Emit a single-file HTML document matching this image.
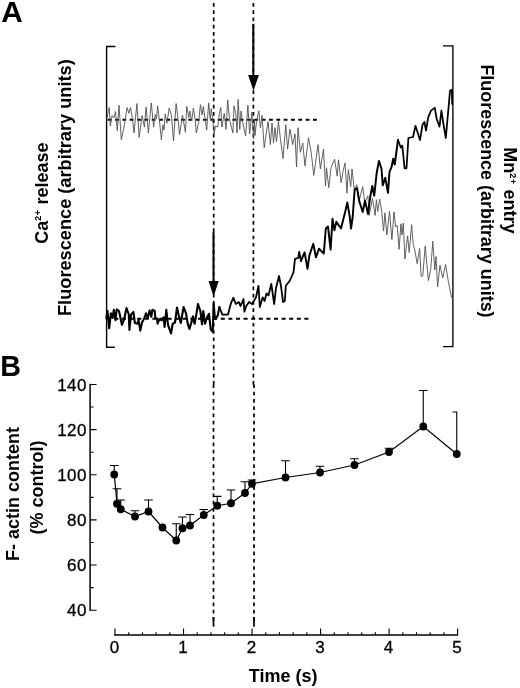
<!DOCTYPE html>
<html><head><meta charset="utf-8"><title>Figure</title>
<style>
html,body{margin:0;padding:0;background:#fff;}
body{width:520px;height:688px;overflow:hidden;}
svg{display:block;}
text{font-family:"Liberation Sans",Arial,Helvetica,sans-serif;fill:#000;}
.b{font-weight:bold;}
</style></head><body>
<svg width="520" height="688" viewBox="0 0 520 688">
<rect width="520" height="688" fill="#fff"/>
<!-- panel letters -->
<text class="b" x="1.2" y="21.8" font-size="29.8">A</text>
<text class="b" x="0.2" y="375.7" font-size="28.7">B</text>

<!-- panel A brackets -->
<path d="M115.4 46.5H106.6V347.3H114.8" fill="none" stroke="#000" stroke-width="1.4"/>
<path d="M443 45.9H452.9V346.6H443" fill="none" stroke="#000" stroke-width="1.35"/>

<!-- dashed guide lines -->
<path d="M316.8 119.7H107.3" fill="none" stroke="#000" stroke-width="2" stroke-dasharray="3.8 3.53"/>
<path d="M308.4 318.8H107.3" fill="none" stroke="#000" stroke-width="2" stroke-dasharray="4 3.6"/>
<path d="M213.7 3V384.7M253.4 3V384.7M213.5 384.4V620.7M254 384.4V620.7" fill="none" stroke="#000" stroke-width="1.7" stroke-dasharray="3.7 3.57"/>
<path d="M213.5 617V626.7M254 617V626.7" fill="none" stroke="#000" stroke-width="1.7"/>

<!-- gray trace -->
<polyline points="106.9,117.9 109.2,107.5 110.3,126.0 112.1,115.6 113.8,117.9 115.5,111.6 117.3,130.6 119.0,105.2 121.3,139.8 124.2,126.0 127.1,107.5 128.8,113.3 130.5,107.5 132.3,117.9 134.0,132.9 136.9,103.5 139.2,137.5 142.1,115.6 144.4,127.1 146.1,107.0 148.4,132.9 151.3,102.9 153.6,127.1 155.3,114.5 156.5,119.0 157.6,105.8 159.9,124.8 161.4,139.8 162.9,124.8 164.0,130.0 165.2,113.9 166.9,123.1 169.2,108.1 171.5,115.6 173.5,141.0 176.1,103.5 177.9,117.9 179.6,134.6 182.5,115.0 185.4,132.3 186.8,106.4 188.8,117.9 189.8,111.0 191.7,120.8 193.4,108.1 195.2,119.0 196.3,132.9 198.6,122.5 200.4,104.7 202.1,115.0 203.3,106.4 205.0,117.9 206.7,130.0 208.7,102.9 210.2,119.0 211.3,108.7 212.5,117.9 214.2,134.0 215.4,126.0 217.7,127.1 219.4,113.3 220.8,107.5 221.9,127.1 224.2,113.3 226.0,129.4 227.7,100.0 229.4,117.9 231.1,126.0 232.9,132.9 234.0,105.8 235.8,113.3 237.1,132.9 238.1,99.5 239.8,129.4 241.0,111.0 242.7,122.5 245.6,135.8 247.9,105.2 249.6,134.0 251.9,112.1 253.6,138.7 254.3,120.0 255.0,135.4 256.5,121.5 258.8,110.8 260.4,127.7 262.0,115.4 264.2,147.7 268.0,121.5 270.4,144.6 272.0,123.0 273.5,143.0 275.0,127.7 276.5,141.5 278.4,121.5 280.4,138.5 283.0,158.5 285.8,124.6 287.6,149.2 290.0,129.2 292.7,144.6 295.0,133.8 296.5,167.0 298.0,127.7 300.4,152.3 302.7,143.0 305.0,166.0 308.5,137.7 311.2,152.3 313.8,175.4 318.0,144.6 320.4,169.0 323.5,149.0 325.5,186.0 326.5,167.7 328.8,187.7 331.0,167.7 332.5,164.0 334.6,159.2 337.2,176.2 338.5,159.8 341.1,182.7 343.1,171.0 345.0,163.0 347.0,193.2 348.3,169.6 350.7,186.6 352.0,169.0 354.2,189.2 356.8,184.7 358.8,202.3 362.7,186.6 364.7,202.3 367.9,195.8 369.2,215.4 372.5,198.4 375.1,215.4 376.4,199.7 377.7,211.5 379.7,199.0 381.7,211.5 383.6,231.1 384.9,212.8 386.9,235.0 389.5,211.5 391.9,239.7 394.0,211.8 395.6,227.0 397.2,225.4 399.1,249.3 400.9,223.8 402.0,235.0 403.3,223.0 404.9,259.0 407.6,235.8 409.2,252.5 411.6,224.6 413.2,244.5 414.8,250.0 417.2,263.7 419.6,248.5 421.2,276.5 422.8,275.7 425.2,246.0 428.4,280.5 430.8,268.5 432.8,241.3 434.8,270.0 436.0,256.5 437.6,287.0 440.0,265.3 442.7,278.0 445.6,264.5 448.3,281.3 451.5,297.3 452.6,298.0" fill="none" stroke="#505050" stroke-width="0.9" stroke-linejoin="round"/>
<!-- black trace -->
<g fill="none" stroke="#000" stroke-linejoin="round" stroke-linecap="round">
<polyline points="106.3,318.0 107.5,311.0 109.2,328.3 110.9,313.3 112.6,318.0 113.8,309.8 115.5,320.2 116.7,309.3 119.0,311.0 121.9,324.8 124.2,319.0 126.5,308.0 128.8,314.5 129.4,330.0 131.1,314.5 133.4,312.0 134.9,323.0 137.4,323.7 138.6,320.2 140.3,330.6 142.0,322.5 144.4,318.0 146.0,313.3 147.8,318.0 149.6,310.4 151.3,316.8 152.4,309.8 154.7,311.0 155.3,318.0 157.0,318.5 157.6,323.7 159.4,319.0 161.7,320.2 163.5,317.3 164.6,327.0 166.3,309.8 168.0,324.8 171.0,333.5 172.7,323.7 175.0,322.5 177.0,307.5 178.5,314.5 180.8,323.0 183.6,307.0 186.0,313.3 187.7,323.7 189.4,328.9 191.7,321.4 192.9,316.2 194.6,323.7 196.3,314.5 198.0,304.0 200.4,311.0 202.0,324.3 203.3,311.0 205.0,323.7 207.3,316.8 209.0,313.9 210.7,329.4 212.8,331.8 213.6,303.0 215.0,319.0 217.7,315.6 219.4,307.0" stroke-width="2.1"/>
<polyline points="219.4,307.0 222.3,314.6 228.0,314.6 231.0,303.0 233.5,297.7 235.8,304.0 238.7,302.0 240.6,306.0 243.5,299.0 244.4,311.7 246.3,306.0 249.0,302.0 252.0,304.0 256.0,297.3 258.5,285.8 259.8,307.0 262.7,297.3 264.6,301.0 266.5,293.5 268.5,295.4 271.3,283.8 274.2,304.0 276.0,288.0 279.0,276.0 281.0,286.0 283.0,302.0 284.8,301.0 285.8,285.8 289.6,281.0 293.5,272.3 295.0,258.8 298.3,257.9 299.2,252.0 301.0,260.8" stroke-width="1.8"/>
<polyline points="301.0,260.8 303.0,256.0 304.6,252.5 307.5,268.8 309.4,255.4 313.3,243.8 316.0,257.3 319.0,248.7 323.8,253.5 325.8,228.5 328.0,226.5 330.6,249.6 332.5,218.8 334.4,230.4 336.3,221.7 341.0,228.5 345.4,211.0 347.3,202.5 349.8,217.0 351.0,228.5 352.7,217.0 354.6,190.0 357.0,188.0 359.4,201.5 362.7,212.0 365.0,200.6 368.0,214.0 370.4,195.8 372.3,186.0 374.2,195.8 376.7,172.7 379.0,161.0 381.5,168.8 382.8,185.3 385.3,177.8 388.0,192.9 389.5,172.0 391.7,166.4 393.2,158.8 394.7,164.5 398.0,140.0" stroke-width="1.95"/>
<polyline points="398.0,140.0 400.8,147.5 402.3,145.6 404.6,168.3 406.5,168.3 408.4,138.0 413.0,137.0 415.5,125.8 420.0,140.0 422.5,124.8 424.4,122.0 426.0,130.5 428.2,117.3 431.0,110.6 434.8,107.8 436.7,119.0 439.5,126.7 441.4,110.6 443.3,123.0 445.8,138.0 448.0,113.5 450.0,90.8 451.8,89.8 452.2,104.0" stroke-width="1.75"/>
</g>

<!-- arrows -->
<path d="M253.3 23.8V77" stroke="#000" stroke-width="2" fill="none"/>
<path d="M248.1 75.1H258.9L253.5 90.8Z" fill="#000"/>
<path d="M213.5 232V283" stroke="#000" stroke-width="2" fill="none"/>
<path d="M208.5 281H218.7L213.6 296.4Z" fill="#000"/>

<!-- axis labels panel A -->
<g class="b" font-size="18">
<text transform="translate(48.2 243.8) rotate(-90)">Ca<tspan font-size="9" letter-spacing="0.5" dy="-7.2">2+</tspan><tspan dy="7.2"> release</tspan></text>
<text transform="translate(70.6 316) rotate(-90)" font-size="18.2">Fluorescence (arbitrary units)</text>
<text transform="translate(504.2 147.3) rotate(90)">Mn<tspan font-size="9" letter-spacing="0.5" dy="-6.1">2+</tspan><tspan dy="6.1"> entry</tspan></text>
<text transform="translate(480.6 64.4) rotate(90)" font-size="17.95">Fluorescence (arbitrary units)</text>
</g>

<!-- panel B axes -->
<path d="M90.1 383.8V610.8" stroke="#000" stroke-width="1.5" fill="none"/>
<path d="M90.1 384.50H96.6M90.1 407.07H93.6M90.1 429.64H96.6M90.1 452.21H93.6M90.1 474.78H96.6M90.1 497.35H93.6M90.1 519.92H96.6M90.1 542.49H93.6M90.1 565.06H96.6M90.1 587.63H93.6M90.1 610.20H96.6" stroke="#000" stroke-width="1.1" fill="none"/>
<path d="M114.2 635H458" stroke="#000" stroke-width="1.3" fill="none"/>
<path d="M115.00 635V628.5M128.71 635V632.3M142.41 635V632.3M156.12 635V632.3M169.82 635V632.3M183.53 635V628.5M197.23 635V632.3M210.94 635V632.3M224.64 635V632.3M238.34 635V632.3M252.05 635V628.5M265.75 635V632.3M279.46 635V632.3M293.16 635V632.3M306.87 635V632.3M320.57 635V628.5M334.28 635V632.3M347.99 635V632.3M361.69 635V632.3M375.39 635V632.3M389.10 635V628.5M402.81 635V632.3M416.51 635V632.3M430.21 635V632.3M443.92 635V632.3M457.62 635V628.5" stroke="#000" stroke-width="1.1" fill="none"/>
<g font-size="17" letter-spacing="0.45" stroke="#000" stroke-width="0.3">
<text x="86.9" y="390.70" text-anchor="end">140</text>
<text x="86.9" y="435.84" text-anchor="end">120</text>
<text x="86.9" y="480.98" text-anchor="end">100</text>
<text x="86.9" y="526.12" text-anchor="end">80</text>
<text x="86.9" y="571.26" text-anchor="end">60</text>
<text x="86.9" y="616.40" text-anchor="end">40</text>
<text x="114.60" y="652.9" text-anchor="middle">0</text>
<text x="183.10" y="652.9" text-anchor="middle">1</text>
<text x="251.60" y="652.9" text-anchor="middle">2</text>
<text x="320.10" y="652.9" text-anchor="middle">3</text>
<text x="388.60" y="652.9" text-anchor="middle">4</text>
<text x="457.10" y="652.9" text-anchor="middle">5</text>
</g>
<g class="b" font-size="18">
<text transform="translate(18.8 561) rotate(-90)">F- actin content</text>
<text transform="translate(42.5 534.6) rotate(-90)">(% control)</text>
<text x="248.8" y="682.4">Time (s)</text>
</g>

<!-- panel B data -->
<polyline points="114.25,474.50 117.00,503.75 120.75,509.25 135.00,516.50 148.50,511.50 162.50,527.50 176.25,540.50 182.50,528.25 190.00,525.50 203.75,515.00 217.25,505.75 231.00,503.25 245.00,493.00 252.00,483.75 285.50,477.50 320.00,472.50 354.50,465.00 389.00,452.00 423.25,426.50 456.75,454.00" fill="none" stroke="#000" stroke-width="1.2"/>
<path d="M114.25 474.50V465.50M109.95 465.50H118.55M117.00 503.75V488.75M112.70 488.75H121.30M120.75 509.25V500.00M116.45 500.00H125.05M135.00 516.50V510.75M130.70 510.75H139.30M148.50 511.50V500.00M144.20 500.00H152.80M176.25 540.50V523.75M171.95 523.75H180.55M182.50 528.25V517.00M178.20 517.00H186.80M190.00 525.50V514.50M185.70 514.50H194.30M203.75 515.00V509.50M199.45 509.50H208.05M217.25 505.75V496.40M212.95 496.40H221.55M231.00 503.25V490.00M226.70 490.00H235.30M245.00 493.00V481.75M240.70 481.75H249.30M252.00 483.75V480.00M247.70 480.00H256.30M285.50 477.50V460.75M281.20 460.75H289.80M320.00 472.50V466.25M315.70 466.25H324.30M354.50 465.00V458.75M350.20 458.75H358.80M389.00 452.00V448.25M384.70 448.25H393.30M423.25 426.50V390.50M418.95 390.50H427.55M456.75 454.00V412.00H452.45" fill="none" stroke="#000" stroke-width="1.1"/>
<g fill="#000">
<circle cx="114.25" cy="474.50" r="3.9"/>
<circle cx="117.00" cy="503.75" r="3.9"/>
<circle cx="120.75" cy="509.25" r="3.9"/>
<circle cx="135.00" cy="516.50" r="3.9"/>
<circle cx="148.50" cy="511.50" r="3.9"/>
<circle cx="162.50" cy="527.50" r="3.9"/>
<circle cx="176.25" cy="540.50" r="3.9"/>
<circle cx="182.50" cy="528.25" r="3.9"/>
<circle cx="190.00" cy="525.50" r="3.9"/>
<circle cx="203.75" cy="515.00" r="3.9"/>
<circle cx="217.25" cy="505.75" r="3.9"/>
<circle cx="231.00" cy="503.25" r="3.9"/>
<circle cx="245.00" cy="493.00" r="3.9"/>
<circle cx="252.00" cy="483.75" r="3.9"/>
<circle cx="285.50" cy="477.50" r="3.9"/>
<circle cx="320.00" cy="472.50" r="3.9"/>
<circle cx="354.50" cy="465.00" r="3.9"/>
<circle cx="389.00" cy="452.00" r="3.9"/>
<circle cx="423.25" cy="426.50" r="3.9"/>
<circle cx="456.75" cy="454.00" r="3.9"/>
</g>
</svg>
</body></html>
